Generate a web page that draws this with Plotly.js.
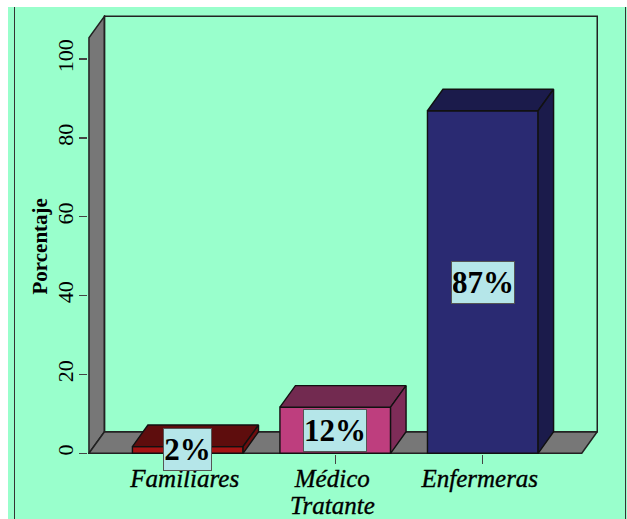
<!DOCTYPE html>
<html>
<head>
<meta charset="utf-8">
<script src="https://cdn.plot.ly/plotly-3.0.1.min.js"></script>
<style>
html,body{margin:0;padding:0;background:#fff;width:627px;height:519px;overflow:hidden}
#chart{position:absolute;left:8px;top:7px;width:619px;height:512px}
#chart .xtick text,#chart .annotation[data-index="4"] text{stroke:#000;stroke-width:.35px}
</style>
</head>
<body>
<div id="chart"></div>
<script>
const categories = ["Familiares", "Médico", "Enfermeras"];
const secondLines = ["", "Tratante", ""];
const values = [1.7, 11.7, 86.9];
const labels = ["2%", "12%", "87%"];
const yTicks = [0, 20, 40, 60, 80, 100];
const frontColors = ["#A51414", "#BE3E7E", "#2A2A72"];
const topColors = ["#5E0D0D", "#722A50", "#1B1B4B"];
const sideColors = ["#6E0E0E", "#7E2C58", "#1B1B4B"];

const BAR_W = 0.75, DX = 0.105, DY = 5.46;
const XL = -0.6695, XR = 2.671, YT = 105.4;
const EDGE = {color: "#111", width: 1.4};

const positions = categories.map((c, i) => i);
const poly = (xs, ys, fill) => ({
  type: "scatter", mode: "lines", x: xs, y: ys, fill: "toself", fillcolor: fill,
  line: EDGE, hoverinfo: "skip", showlegend: false, cliponaxis: false
});

const traces = [{
  type: "bar", x: positions, y: values, width: BAR_W,
  marker: {color: frontColors, line: EDGE},
  hoverinfo: "skip", showlegend: false
}];
positions.forEach((p, i) => {
  const l = p - BAR_W / 2, r = p + BAR_W / 2, v = values[i];
  traces.push(poly([l, l + DX, r + DX, r, l], [v, v + DY, v + DY, v, v], topColors[i]));
  traces.push(poly([r, r + DX, r + DX, r, r], [0, DY, v + DY, v, 0], sideColors[i]));
});

const wall = (path, fill) => ({
  type: "path", path, xref: "x", yref: "y", layer: "below",
  fillcolor: fill, line: {color: "#222", width: 1.5}
});
const shapes = [
  wall(`M${XL},0 L${XL},${YT} L${XL + DX},${YT + DY} L${XL + DX},${DY} Z`, "#777777"),
  wall(`M${XL},0 L${XL + DX},${DY} L${XR + DX},${DY} L${XR},0 Z`, "#777777"),
  wall(`M${XL + DX},${DY} L${XL + DX},${YT + DY} L${XR + DX},${YT + DY} L${XR + DX},${DY} Z`, "rgba(0,0,0,0)"),
  {type: "line", xref: "paper", yref: "paper", x0: (14.5 - 88) / 510, x1: (14.5 - 88) / 510, y0: -0.15, y1: 1.02,
   line: {color: "#333", width: 1}},
  {type: "line", xref: "paper", yref: "paper", x0: (625.5 - 88) / 510, x1: (625.5 - 88) / 510, y0: -0.15, y1: 1.02,
   line: {color: "#333", width: 1}}
];

const annotations = positions.map((p, i) => ({
  x: p, y: values[i] / 2, xref: "x", yref: "y", text: labels[i], showarrow: false,
  font: {family: "Liberation Serif", size: 31, color: "#000", weight: 700},
  bgcolor: "#B5E6E9", bordercolor: "#555", borderwidth: 1, borderpad: 1,
  width: labels[i].length === 2 ? 45 : 60, height: 39,
  xanchor: "center", yanchor: "middle"
}));
annotations.push({
  xref: "paper", yref: "paper", x: (39 - 88) / 510, y: (454 - 246.5) / 439,
  xanchor: "center", yanchor: "middle",
  text: "Porcentaje", textangle: -90, showarrow: false,
  font: {family: "Liberation Serif", size: 21, color: "#000", weight: 700}
});
secondLines.forEach((t, i) => {
  if (t) annotations.push({
    x: positions[i], xref: "x", yref: "paper", y: (454 - 505) / 439, xshift: -3,
    xanchor: "center", yanchor: "middle", text: t, showarrow: false,
    font: {family: "Liberation Serif", size: 25, color: "#000", style: "italic"}
  });
});

Plotly.newPlot("chart", traces, {
  width: 619, height: 512,
  margin: {l: 80, r: 29, t: 8, b: 65, pad: 0},
  paper_bgcolor: "#99FFCC", plot_bgcolor: "rgba(0,0,0,0)",
  showlegend: false,
  xaxis: {
    range: [-0.676, 2.781], tickmode: "array", tickvals: positions, ticktext: categories,
    ticks: "outside", ticklen: 9, tickcolor: "#444", tickwidth: 1.3,
    ticklabelstandoff: -7, ticklabelshift: -3,
    showgrid: false, zeroline: false, showline: false,
    tickfont: {family: "Liberation Serif", size: 25, color: "#000", style: "italic"}
  },
  yaxis: {
    range: [-0.18, 111.2], tickmode: "array", tickvals: yTicks, ticktext: yTicks.map(String),
    ticks: "outside", ticklen: 8, tickcolor: "#444", tickwidth: 1.3, tickangle: -90,
    ticklabelstandoff: -3,
    showgrid: false, zeroline: false, showline: false,
    tickfont: {family: "Liberation Serif", size: 22, color: "#000"}
  },
  shapes, annotations
}, {displayModeBar: false, staticPlot: true});
</script>
</body>
</html>
